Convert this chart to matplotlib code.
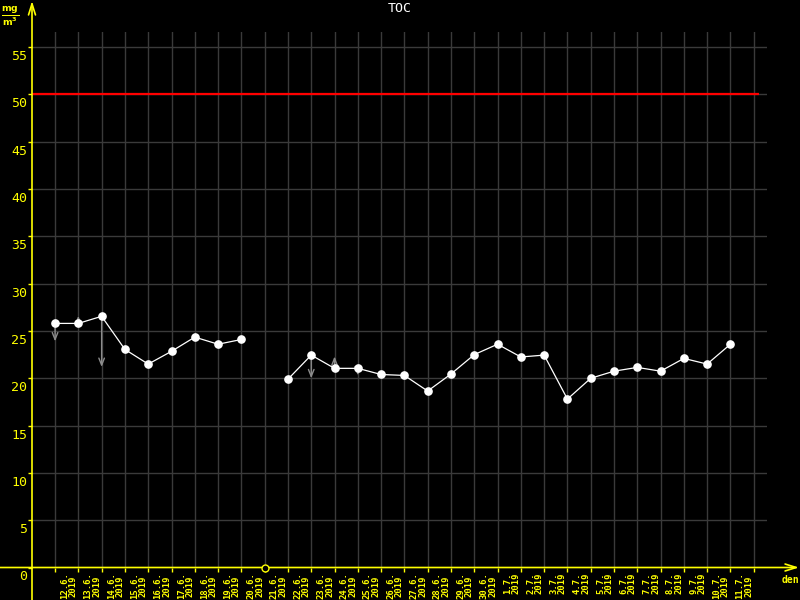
import numpy as np
import matplotlib
matplotlib.use("Agg")
import matplotlib.pyplot as plt
from matplotlib.transforms import ScaledTranslation

# days 12.6.2019 - 11.7.2019, value in mg/m3 (nan = no measurement)
dates = ["12.6.", "13.6.", "14.6.", "15.6.", "16.6.", "17.6.", "18.6.", "19.6.",
         "20.6.", "21.6.", "22.6.", "23.6.", "24.6.", "25.6.", "26.6.", "27.6.",
         "28.6.", "29.6.", "30.6.", "1.7.", "2.7.", "3.7.", "4.7.", "5.7.",
         "6.7.", "7.7.", "8.7.", "9.7.", "10.7.", "11.7."]
year = "2019"
toc = [25.8, 25.8, 26.55, 23.05, 21.5, 22.85, 24.35, 23.6, 24.1, np.nan,
       19.9, 22.45, 21.05, 21.05, 20.4, 20.3, 18.65, 20.45, 22.5, 23.6,
       22.25, 22.45, 17.8, 20.0, 20.75, 21.15, 20.75, 22.1, 21.5, 23.6]
missing_days = [9]
limit = 50

# gray arrows (day index -> arrow end value)
arrow_days = [0, 1, 2, 11, 12, 13]
arrow_to = [23.9, 26.6, 21.2, 20.0, 22.3, 20.3]

yellow = "#ffff00"
grid_c = "#3a3a3a"

fig = plt.figure(figsize=(8, 6), dpi=100, facecolor="black")
ax = fig.add_axes([32 / 800, 32.5 / 600, 735 / 800, 535.5 / 600])
ax.set_facecolor("black")
for s in ax.spines.values():
    s.set_visible(False)

x = np.arange(len(toc))
ax.set_xlim(-0.99, 30.57)
ax.set_ylim(0, 56.6)

ax.set_xticks(np.arange(len(dates) + 1))
ax.set_xticklabels([d + "\n" + year for d in dates] + [""], rotation=90,
                   fontsize=6.4, family="DejaVu Sans Mono", fontweight="bold",
                   color=yellow, va="top", ha="center", linespacing=0.95)
ax.set_yticks(np.arange(0, 56, 5))
ax.set_yticklabels([str(v) for v in range(0, 56, 5)], fontsize=9.5,
                   family="DejaVu Sans Mono", color=yellow, va="top")
ax.tick_params(axis="both", colors=yellow, length=3, width=1, pad=0.5)

for lab in ax.get_xticklabels():
    lab.set_transform(lab.get_transform() + ScaledTranslation(0.14, 0, fig.dpi_scale_trans))
for lab in ax.get_yticklabels():
    lab.set_transform(lab.get_transform() + ScaledTranslation(0, -0.03, fig.dpi_scale_trans))

ax.grid(True, color=grid_c, lw=1)
ax.set_axisbelow(True)

ax.hlines(limit, -0.99, 30.23, color="red", lw=1.6, zorder=2)

for d, t in zip(arrow_days, arrow_to):
    ax.annotate("", xy=(d, t), xytext=(d, toc[d]),
                arrowprops=dict(arrowstyle="->,head_length=0.5,head_width=0.2",
                                color="#8c8c8c", lw=1, shrinkA=0, shrinkB=0),
                zorder=3)

ax.plot(x, toc, color="white", lw=0.9, marker="o", ms=5.2, mfc="white",
        mec="white", zorder=4)
ax.plot(missing_days, [0] * len(missing_days), ls="none", marker="o", ms=5,
        mfc="black", mec=yellow, mew=1, clip_on=False, zorder=5)

# axis lines with arrows
ax.annotate("", xy=(32, 599), xytext=(32, 0), xycoords="figure pixels",
            arrowprops=dict(arrowstyle="->,head_length=0.8,head_width=0.25",
                            color=yellow, lw=1.2, shrinkA=0, shrinkB=0))
ax.annotate("", xy=(799, 32.5), xytext=(0, 32.5), xycoords="figure pixels",
            arrowprops=dict(arrowstyle="->,head_length=0.8,head_width=0.25",
                            color=yellow, lw=1.2, shrinkA=0, shrinkB=0))

fig.text(400 / 800, 1 - 8 / 600, "TOC", color="white", fontsize=9.5,
         family="DejaVu Sans Mono", ha="center", va="center")
fig.text(790 / 800, 1 - 580 / 600, "den", color=yellow, fontsize=7,
         family="DejaVu Sans Mono", fontweight="bold", ha="center", va="center")
fig.text(10 / 800, 1 - 16 / 600, r"$\mathbf{\frac{mg}{m^3}}$", color=yellow,
         fontsize=9.5, ha="center", va="center")

fig.savefig("out.png", dpi=100, facecolor="black")
